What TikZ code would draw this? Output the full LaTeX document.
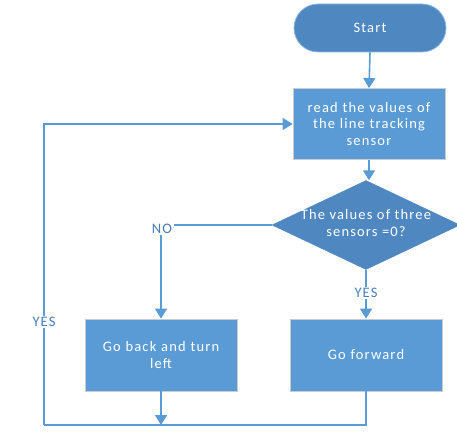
\documentclass[tikz,border=0pt]{standalone}
\usepackage{fontspec}
\setmainfont{Carlito}[LetterSpace=8]
\usetikzlibrary{arrows.meta,shapes.geometric,shapes.misc}
\definecolor{boxblue}{HTML}{5B9BD5}
\definecolor{darkblue}{HTML}{4F87C1}
\definecolor{labelblue}{HTML}{4A7EBB}
\definecolor{edgegray}{HTML}{C8CCD0}
\begin{document}
\begin{tikzpicture}[x=1pt,y=1pt,
  font=\fontsize{14.5pt}{16.5pt}\selectfont,
  flow/.style={draw=boxblue, line width=1.6pt},
  arr/.style={flow, -{Triangle[width=12pt,length=10pt]}},
  procbox/.style={rectangle, fill=boxblue, draw=edgegray, line width=0.8pt,
    minimum width=152pt, minimum height=72pt, text=white, align=center,
    text width=145pt, inner sep=0pt},
  terminal/.style={rounded rectangle, fill=darkblue, draw=boxblue!70, line width=0.8pt,
    minimum width=152pt, minimum height=48pt, text=white, inner sep=0pt},
  decision/.style={diamond, fill=darkblue, draw=darkblue, line width=0.5pt,
    minimum width=188pt, minimum height=89pt, inner sep=0pt},
  tag/.style={fill=white, text=labelblue, inner sep=1.5pt}
]
\useasboundingbox (0,0) rectangle (457,440);

% nodes
\node[terminal] (start) at (370,412) {Start};
\node[procbox, minimum height=71pt] (read) at (369,316)
  {read the values of\\the line tracking\\sensor};
\node[decision] (dec) at (366,215) {};
\node[text=white, align=center, inner sep=0pt] (dectext) at (366,217)
  {The values of three\\sensors =0?};
\node[procbox] (goback) at (161,85) {Go back and turn\\left};
\node[procbox] (gofwd) at (366,85) {Go forward};
\coordinate (bl) at (44,15);

% connectors
\draw[arr] (start.south) -- (read.north);
\draw[arr] (read.south) -- (read.south |- dec.north);
\draw[arr] (dec.west) -| (goback.north);
\draw[arr] (dec.south) -- (gofwd.north);
\draw[flow] (gofwd.south) |- (bl);
\draw[arr] (bl) |- (read.west);
\draw[arr] (goback.south) -- (goback.south |- bl);

% branch labels
\node[tag] (no) at (162,211) {NO};
\node[tag] (yes1) at (366,147) {YES};
\node[tag] (yes2) at (44,118) {YES};
\end{tikzpicture}
\end{document}
